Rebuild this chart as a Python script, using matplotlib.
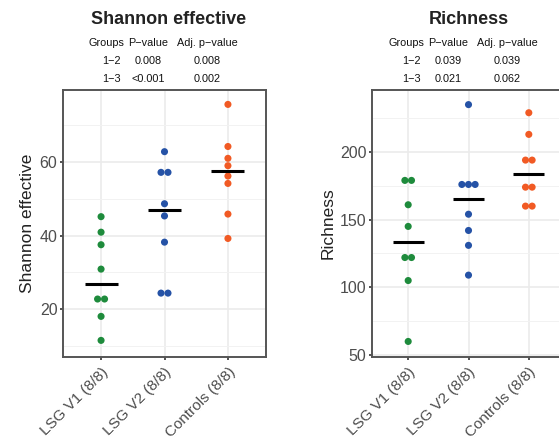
import numpy as np
import matplotlib
matplotlib.use("Agg")
import matplotlib.pyplot as plt
from matplotlib.ticker import MultipleLocator

plt.rcParams['font.family'] = ['Liberation Sans', 'DejaVu Sans']

groups = ["LSG V1 (8/8)", "LSG V2 (8/8)", "Controls (8/8)"]
colors = ["#1E8B3C", "#2552A6", "#F15A24"]

shannon_v1 = [45.1, 40.9, 37.5, 30.9, 22.8, 22.8, 18.1, 11.6]
shannon_v2 = [62.7, 57.1, 57.1, 48.6, 45.3, 38.2, 24.4, 24.4]
shannon_ctrl = [75.5, 64.1, 60.9, 58.9, 56.1, 54.1, 45.8, 39.2]

rich_v1 = [179, 179, 161, 145, 122, 122, 105, 60]
rich_v2 = [235, 176, 176, 176, 154, 142, 131, 109]
rich_ctrl = [229, 213, 194, 194, 174, 174, 160, 160]

shannon_table = [["1\u22122", "0.008", "0.008"], ["1\u22123", "<0.001", "0.002"]]
rich_table = [["1\u22122", "0.039", "0.039"], ["1\u22123", "0.021", "0.062"]]
table_header = ["Groups", "P\u2212value", "Adj. p\u2212value"]

W, H = 559, 440
fig = plt.figure(figsize=(W / 100, H / 100), dpi=100)


def px_rect(x0, y0, x1, y1):
    return [x0 / W, 1 - y1 / H, (x1 - x0) / W, (y1 - y0) / H]


def panel(rect, data, ylim, major, minor, ylabel, title, table, cx):
    ax = fig.add_axes(rect)
    ax.set_xlim(0.4, 3.6)
    ax.set_ylim(*ylim)
    ax.yaxis.set_major_locator(MultipleLocator(major))
    ax.yaxis.set_minor_locator(MultipleLocator(minor))
    ax.set_xticks([1, 2, 3])
    ax.set_xticklabels(groups, rotation=45, ha='right', va='top',
                       rotation_mode='anchor', fontsize=11, color='#4D4D4D')
    ax.tick_params(axis='y', which='major', labelsize=11.5, labelcolor='#4D4D4D',
                   length=2.5, width=1.2, color='#333333', pad=1.5)
    ax.tick_params(axis='x', which='major', length=2.5, width=1.2,
                   color='#333333', pad=3)
    ax.tick_params(which='minor', length=0)
    ax.grid(True, which='major', color='#EBEBEB', lw=1.2, zorder=0)
    ax.grid(True, which='minor', color='#F2F2F2', lw=0.7, zorder=0)
    ax.set_axisbelow(True)
    for s in ax.spines.values():
        s.set_color('#555555')
        s.set_linewidth(1.4)
    step = 0.11
    for i, (vals, c) in enumerate(zip(data, colors)):
        vals = np.asarray(vals, float)
        xs = np.full(len(vals), i + 1.0)
        for u in np.unique(vals):
            idx = np.where(vals == u)[0]
            n = len(idx)
            xs[idx] += (np.arange(n) - (n - 1) / 2) * step
        ax.scatter(xs, vals, s=26, color=c, edgecolors='none', zorder=3)
        med = np.median(vals)
        ax.plot([i + 1 - 0.26, i + 1 + 0.26], [med, med], color='black',
                lw=2.2, zorder=4, solid_capstyle='butt')
    ax.set_ylabel(ylabel, fontsize=12.5, color='#222222', labelpad=3)
    fig.text(cx / W, 1 - 20 / H, title, ha='center', va='center',
             fontsize=13, fontweight='bold', color='#222222')
    col_off = [-63, -21, 38]
    rows_y = [43, 61, 79]
    for j, h in enumerate(table_header):
        fig.text((cx + col_off[j]) / W, 1 - rows_y[0] / H, h, ha='center',
                 va='center', fontsize=7.8, color='#111111')
    for r, row in enumerate(table):
        for j, v in enumerate(row):
            fig.text((cx + col_off[j] + (5 if j == 0 else 0)) / W,
                     1 - rows_y[r + 1] / H, v, ha='center', va='center',
                     fontsize=7.8, color='#111111')
    return ax


panel(px_rect(63, 90, 266, 357), [shannon_v1, shannon_v2, shannon_ctrl],
      (7.1, 79.4), 20, 10, "Shannon effective", "Shannon effective",
      shannon_table, 169)
panel(px_rect(372, 90, 565, 357), [rich_v1, rich_v2, rich_ctrl],
      (48.5, 245.8), 50, 25, "Richness", "Richness", rich_table, 469)

fig.savefig("out.png", dpi=100)
